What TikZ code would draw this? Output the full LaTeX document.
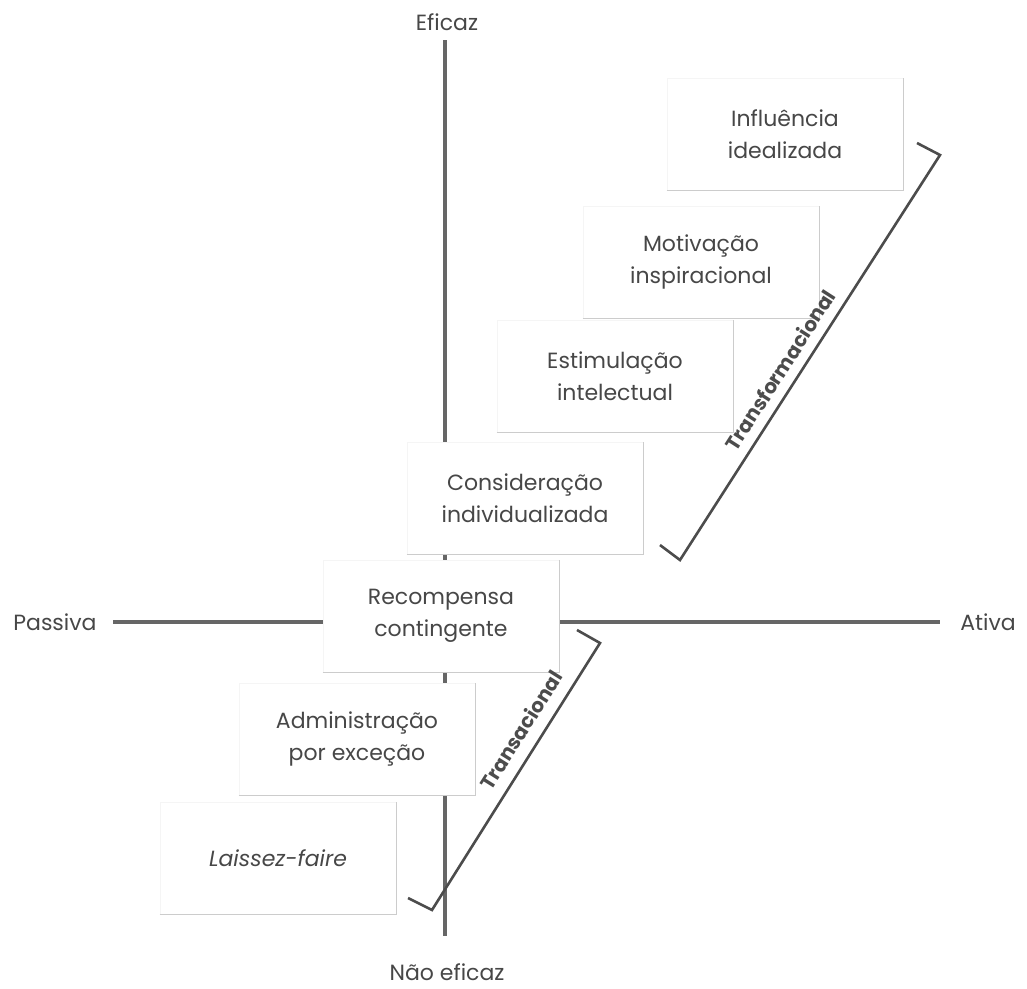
\documentclass[tikz,border=0pt]{standalone}
\usepackage{fontspec}
\setmainfont{Poppins}
\usepackage{tikz}
\usetikzlibrary{positioning}
\usetikzlibrary{calc}

\begin{document}
\begin{tikzpicture}
  [
    x=1pt,y=-1pt,
    every node/.style={
      text=black!72,
      font=\fontsize{22}{32}\selectfont
    },
    axis/.style={
      draw=black!60,
      line width=3.5pt
    },
    level/.style={
      fill=white,
      draw=black!4,
      line width=1pt,
      align=center,
      minimum width=236,
      minimum height=112
    },
    edgeshade/.style={
      draw=black!20,
      line width=1.6pt
    },
    bracket/.style={
      draw=black!70,
      line width=2.6pt,
      line join=miter
    },
    groupname/.style={
      font=\fontsize{20}{24}\selectfont\bfseries,
      text=black!70
    }
  ]
    \useasboundingbox (0,0) rectangle (1027,988);
    % axes
    \node (top) at (447,22) {Eficaz};
    \node (bottom) at (447,972) {Não eficaz};
    \node (left) at (55,622) {Passiva};
    \node (right) at (988,622) {Ativa};
    \draw [axis] (445,40) -- (445,936);
    \draw [axis] (113,622) -- (940,622);
    % levels
    \node [level] (infl) at (785,134) {Influência\\idealizada};
    \node [level] (motiv) at (701,262) {Motivação\\inspiracional};
    \node [level] (estim) at (615,376) {Estimulação\\intelectual};
    \node [level] (consid) at (525,498) {Consideração\\individualizada};
    \node [level] (recomp) at (441,616) {Recompensa\\contingente};
    \node [level] (admin) at (357,739) {Administração\\por exceção};
    \node [level] (laissez) at (278,858) {\itshape Laissez-faire};
    \foreach \n in {infl,motiv,estim,consid,recomp,admin,laissez}
      \draw [edgeshade] (\n.south west) -- (\n.south east) -- (\n.north east);
    % brackets
    \coordinate (tf1) at (917,143);
    \coordinate (tf2) at (940,155);
    \coordinate (tf3) at (680,560);
    \coordinate (tf4) at (660,545);
    \draw [bracket] (tf1) -- (tf2) -- (tf3) -- (tf4);
    \node [groupname,rotate=57.3] (transf) at (780,370) {Transformacional};
    \coordinate (ta1) at (577,630);
    \coordinate (ta2) at (600,643);
    \coordinate (ta3) at (432,910);
    \coordinate (ta4) at (408,898);
    \draw [bracket] (ta1) -- (ta2) -- (ta3) -- (ta4);
    \node [groupname,rotate=57.8] (transa) at (521,730) {Transacional};
  \end{tikzpicture}
\end{document}
